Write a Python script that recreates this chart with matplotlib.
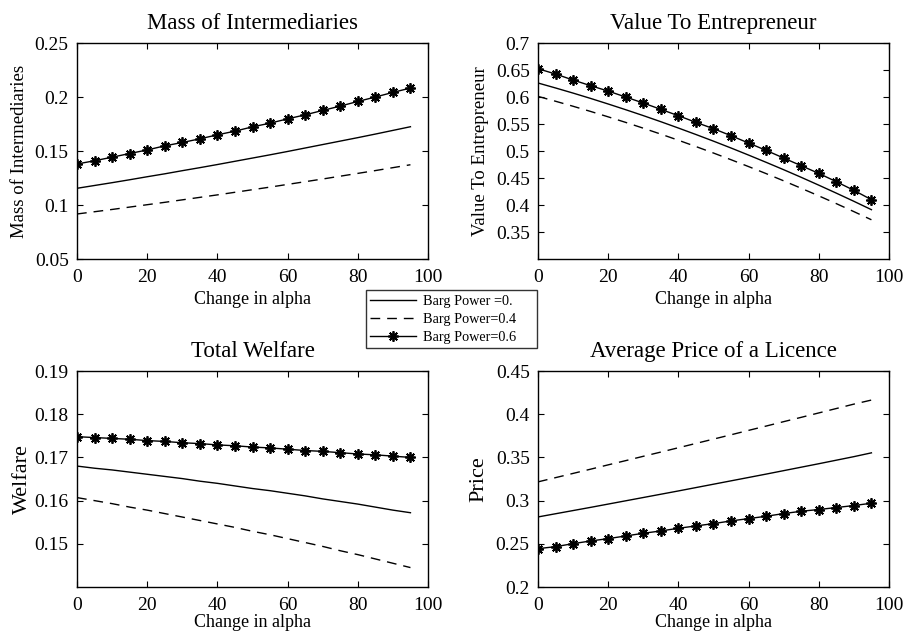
import numpy as np
import matplotlib
matplotlib.use('Agg')
import matplotlib.pyplot as plt
from matplotlib.lines import Line2D

plt.rcParams['font.family'] = ['Liberation Serif', 'DejaVu Serif']

# change in alpha, one value every 5
alpha = np.arange(0, 100, 5)

labels = ['Barg Power =0.', 'Barg Power=0.4', 'Barg Power=0.6']

# Mass of Intermediaries
mass_p0 = [0.1155, 0.1181, 0.1207, 0.1234, 0.1262, 0.1289, 0.1318, 0.1346, 0.1375, 0.1405,
           0.1435, 0.1465, 0.1496, 0.1528, 0.1560, 0.1592, 0.1624, 0.1657, 0.1691, 0.1725]
mass_p4 = [0.0917, 0.0938, 0.0959, 0.0981, 0.1003, 0.1025, 0.1048, 0.1071, 0.1094, 0.1118,
           0.1142, 0.1166, 0.1191, 0.1216, 0.1241, 0.1267, 0.1293, 0.1319, 0.1346, 0.1373]
mass_p6 = [0.1380, 0.1410, 0.1443, 0.1477, 0.1510, 0.1548, 0.1579, 0.1613, 0.1650, 0.1684,
           0.1724, 0.1758, 0.1798, 0.1835, 0.1876, 0.1916, 0.1959, 0.2000, 0.2043, 0.2083]

# Value To Entrepreneur
value_p0 = [0.6260, 0.6168, 0.6073, 0.5974, 0.5871, 0.5765, 0.5656, 0.5543, 0.5426, 0.5306,
            0.5183, 0.5056, 0.4925, 0.4791, 0.4654, 0.4513, 0.4368, 0.4220, 0.4069, 0.3914]
value_p4 = [0.6012, 0.5922, 0.5829, 0.5733, 0.5633, 0.5530, 0.5423, 0.5313, 0.5200, 0.5083,
            0.4963, 0.4839, 0.4712, 0.4582, 0.4448, 0.4310, 0.4170, 0.4026, 0.3878, 0.3727]
value_p6 = [0.6525, 0.6426, 0.6315, 0.6210, 0.6110, 0.6000, 0.5889, 0.5772, 0.5654, 0.5531,
            0.5414, 0.5284, 0.5148, 0.5012, 0.4870, 0.4728, 0.4586, 0.4432, 0.4272, 0.4099]

# Total Welfare
welf_p0 = [0.1680, 0.1675, 0.1671, 0.1666, 0.1661, 0.1656, 0.1651, 0.1645, 0.1640, 0.1634,
           0.1628, 0.1623, 0.1617, 0.1611, 0.1604, 0.1598, 0.1592, 0.1585, 0.1578, 0.1572]
welf_p4 = [0.1607, 0.1600, 0.1593, 0.1585, 0.1578, 0.1570, 0.1562, 0.1554, 0.1546, 0.1538,
           0.1529, 0.1521, 0.1512, 0.1503, 0.1494, 0.1484, 0.1475, 0.1465, 0.1455, 0.1445]
welf_p6 = [0.1748, 0.1746, 0.1744, 0.1742, 0.1739, 0.1737, 0.1734, 0.1732, 0.1729, 0.1727,
           0.1724, 0.1722, 0.1719, 0.1716, 0.1714, 0.1711, 0.1708, 0.1706, 0.1703, 0.1700]

# Average Price of a Licence
price_p0 = [0.2811, 0.2848, 0.2885, 0.2922, 0.2960, 0.2998, 0.3036, 0.3074, 0.3112, 0.3151,
            0.3190, 0.3229, 0.3268, 0.3307, 0.3347, 0.3387, 0.3427, 0.3468, 0.3509, 0.3553]
price_p4 = [0.3217, 0.3266, 0.3315, 0.3364, 0.3414, 0.3463, 0.3513, 0.3562, 0.3612, 0.3662,
            0.3712, 0.3762, 0.3813, 0.3863, 0.3914, 0.3964, 0.4015, 0.4066, 0.4117, 0.4164]
price_p6 = [0.2444, 0.2467, 0.2502, 0.2533, 0.2560, 0.2591, 0.2622, 0.2649, 0.2680, 0.2707,
            0.2734, 0.2765, 0.2792, 0.2819, 0.2850, 0.2877, 0.2897, 0.2920, 0.2943, 0.2970]

panels = [
    ('Mass of Intermediaries', 'Mass of Intermediaries', (mass_p0, mass_p4, mass_p6),
     (0.05, 0.25), [0.05, 0.1, 0.15, 0.2, 0.25], ['0.05', '0.1', '0.15', '0.2', '0.25'], 13.5, 5),
    ('Value To Entrepreneur', 'Value To Entrepreneur', (value_p0, value_p4, value_p6),
     (0.3, 0.7), [0.35, 0.4, 0.45, 0.5, 0.55, 0.6, 0.65, 0.7],
     ['0.35', '0.4', '0.45', '0.5', '0.55', '0.6', '0.65', '0.7'], 13.5, 5),
    ('Total Welfare', 'Welfare', (welf_p0, welf_p4, welf_p6),
     (0.14, 0.19), [0.15, 0.16, 0.17, 0.18, 0.19], ['0.15', '0.16', '0.17', '0.18', '0.19'], 16, 2),
    ('Average Price of a Licence', 'Price', (price_p0, price_p4, price_p6),
     (0.2, 0.45), [0.2, 0.25, 0.3, 0.35, 0.4, 0.45], ['0.2', '0.25', '0.3', '0.35', '0.4', '0.45'], 16, 5),
]

positions = [
    [0.085, 0.5895, 0.3874, 0.3423],
    [0.5938, 0.5895, 0.3874, 0.3423],
    [0.085, 0.0697, 0.3874, 0.3423],
    [0.5938, 0.0697, 0.3874, 0.3423],
]
xlabel_pads = [4, 4, 0, 0]

ASTER = (8, 2, 0)
DASH = (7, 5)

fig = plt.figure(figsize=(9.06, 6.31), dpi=100)

for (title, ylab, series, ylim, yticks, yticklabels, ylab_size, ylab_pad), pos, xpad in zip(panels, positions, xlabel_pads):
    ax = fig.add_axes(pos)
    s0, s4, s6 = series
    ax.plot(alpha, s0, color='k', lw=1.0)
    ax.plot(alpha, s4, color='k', lw=1.0, dashes=DASH)
    ax.plot(alpha, s6, color='k', lw=1.0, marker=ASTER, markersize=7.5, markeredgewidth=1.3)
    ax.set_xlim(0, 100)
    ax.set_ylim(*ylim)
    ax.set_xticks([0, 20, 40, 60, 80, 100])
    ax.set_yticks(yticks)
    ax.set_yticklabels(yticklabels)
    ax.tick_params(direction='in', top=True, right=True, labelsize=14, length=4)
    ax.tick_params(axis='x', pad=7)
    ax.tick_params(axis='y', pad=6)
    for sp in ax.spines.values():
        sp.set_linewidth(1.0)
    ax.set_title(title, fontsize=16.5, pad=10)
    ax.set_xlabel('Change in alpha', fontsize=13, labelpad=xpad)
    ax.set_ylabel(ylab, fontsize=ylab_size, labelpad=ylab_pad)

handles = [
    Line2D([], [], color='k', lw=1.0),
    Line2D([], [], color='k', lw=1.0, dashes=DASH),
    Line2D([], [], color='k', lw=1.0, marker=ASTER, markersize=7.5, markeredgewidth=1.3),
]
leg = fig.legend(handles, labels, loc='lower left', bbox_to_anchor=(0.404, 0.4485, 0.189, 0.095),
                 mode='expand', fontsize=10.3, handlelength=3.2, numpoints=1, frameon=True,
                 fancybox=False, borderaxespad=0, borderpad=0.3, labelspacing=0.35, handletextpad=0.5)
leg.get_frame().set_edgecolor('k')
leg.get_frame().set_linewidth(1.0)

fig.savefig('out.png', dpi=100)
